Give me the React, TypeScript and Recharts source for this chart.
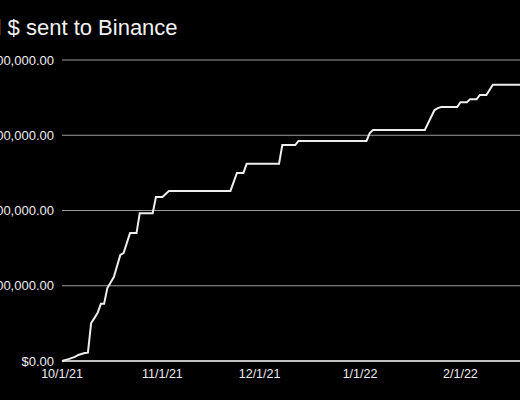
import React from 'react';
import { LineChart, Line, XAxis, YAxis, CartesianGrid } from 'recharts';

// cumulative USD sent
const dates = [
  '2021-10-01', '2021-10-03', '2021-10-05', '2021-10-06', '2021-10-08', '2021-10-09',
  '2021-10-10', '2021-10-11', '2021-10-12', '2021-10-13', '2021-10-14', '2021-10-15',
  '2021-10-17', '2021-10-19', '2021-10-20', '2021-10-22', '2021-10-24', '2021-10-25',
  '2021-10-29', '2021-10-30', '2021-11-01', '2021-11-03', '2021-11-22', '2021-11-24',
  '2021-11-26', '2021-11-27', '2021-12-07', '2021-12-08', '2021-12-12', '2021-12-13',
  '2022-01-03', '2022-01-04', '2022-01-05', '2022-01-21', '2022-01-24', '2022-01-25',
  '2022-01-26', '2022-01-31', '2022-02-01', '2022-02-03', '2022-02-04', '2022-02-06',
  '2022-02-07', '2022-02-09', '2022-02-11', '2022-02-20',
];
const totals = [
  0, 5000, 11000, 16000, 21000, 22000,
  101000, 114000, 128000, 152000, 152000, 194000,
  223000, 282000, 287000, 340000, 340000, 393000,
  393000, 436000, 436000, 452000, 452000, 500000,
  500000, 524000, 524000, 574000, 574000, 585000,
  585000, 606000, 614000, 614000, 667000, 672000,
  675000, 675000, 688000, 688000, 696000, 696000,
  707000, 707000, 734000, 734000,
];

const tickDates = ['2021-10-01', '2021-11-01', '2021-12-01', '2022-01-01', '2022-02-01'];
const tickLabels = ['10/1/21', '11/1/21', '12/1/21', '1/1/22', '2/1/22'];
const yTicks = [0, 200000, 400000, 600000, 800000];

const toTime = (s: string) => {
  const [y, m, d] = s.split('-').map(Number);
  return Date.UTC(y, m - 1, d);
};

const data = dates.map((d, i) => ({ t: toTime(d), total: totals[i] }));
const xTicks = tickDates.map(toTime);

const fmtMoney = (v: number) => {
  const s = Math.round(v).toString().replace(/\B(?=(\d{3})+(?!\d))/g, ',');
  return `$${s}.00`;
};

const fmtDate = (v: number) => {
  const i = xTicks.indexOf(v);
  return i >= 0 ? tickLabels[i] : '';
};

const font = '"Liberation Sans", Arial, Helvetica, sans-serif';

const App: React.FC = () => {
  return (
    <div
      style={{
        position: 'absolute',
        left: 0,
        top: 0,
        width: 520,
        height: 400,
        overflow: 'hidden',
        background: '#000',
        fontFamily: font,
      }}
    >
      {/* the original is cropped on the left, so the chart sits partly off-frame */}
      <div style={{ position: 'absolute', left: -60, top: 0 }}>
        <LineChart
          width={590}
          height={400}
          data={data}
          margin={{ top: 60, right: 8, bottom: 9, left: 0 }}
        >
          <CartesianGrid vertical={false} stroke="#9a9a9a" strokeWidth={1} />
          <XAxis
            dataKey="t"
            type="number"
            scale="time"
            domain={[toTime('2021-10-01'), toTime('2022-02-20')]}
            ticks={xTicks}
            tickFormatter={fmtDate}
            height={30}
            axisLine={{ stroke: '#e6e6e6', strokeWidth: 1.5 }}
            tickLine={false}
            tick={{ fill: '#eeeeee', fontSize: 12.5, fontFamily: font }}
            interval={0}
          />
          <YAxis
            type="number"
            domain={[0, 800000]}
            ticks={yTicks}
            tickFormatter={fmtMoney}
            width={122}
            axisLine={false}
            tickLine={false}
            tick={{ fill: '#eeeeee', fontSize: 13, fontFamily: font }}
            interval={0}
          />
          <Line
            type="linear"
            dataKey="total"
            stroke="#eeeeee"
            strokeWidth={2}
            dot={false}
            isAnimationActive={false}
          />
        </LineChart>
      </div>
      <div
        style={{
          position: 'absolute',
          left: -45,
          top: 17,
          color: '#f2f2f2',
          fontSize: 22,
          lineHeight: '22px',
          whiteSpace: 'nowrap',
        }}
      >
        Total $ sent to Binance
      </div>
    </div>
  );
};

export default App;
